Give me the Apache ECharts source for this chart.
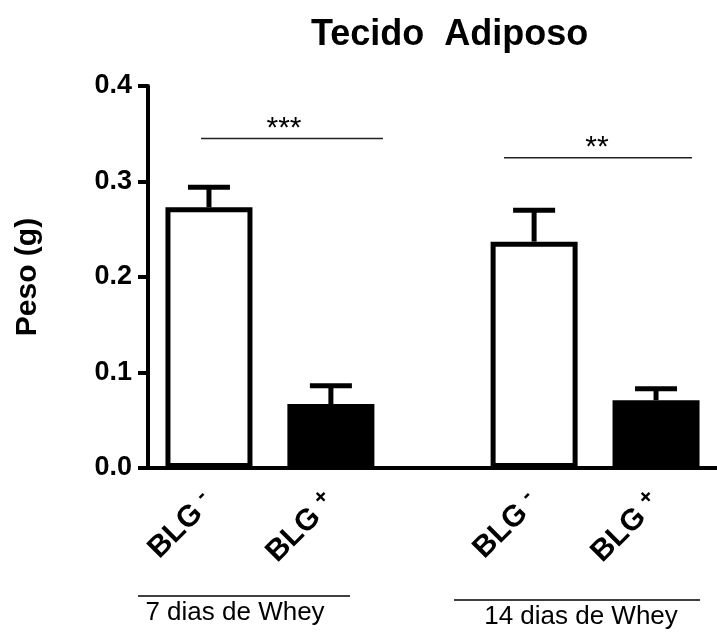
<!DOCTYPE html>
<html>
<head>
<meta charset="utf-8">
<script src="https://cdn.jsdelivr.net/npm/echarts@6/dist/echarts.min.js"></script>
<style>
  html, body { margin: 0; padding: 0; background: #fff; }
  #main { width: 717px; height: 632px; }
</style>
</head>
<body>
<div id="main"></div>
<script>
// data
const categories = ['BLG-', 'BLG+', 'BLG-', 'BLG+'];
const groups = ['7 dias de Whey', '14 dias de Whey'];
const means = [0.273, 0.067, 0.237, 0.071];
const sems = [0.021, 0.019, 0.033, 0.012];
const yTicks = [0.0, 0.1, 0.2, 0.3, 0.4];
const stars = ['***', '**'];
const starLevels = [0.345, 0.325];

const FONT = '"Liberation Sans", Arial, sans-serif';

// slot layout: each group takes 8 narrow slots, bars sit on slot 1 and 4 of it
const SLOTS = 14;
const slotOf = i => Math.floor(i / 2) * 8 + (i % 2) * 3 + 1;
const slotNames = [];
const slotLabels = [];
for (let s = 0; s < SLOTS; s++) { slotNames.push('s' + s); slotLabels.push(''); }
categories.forEach((c, i) => { slotLabels[slotOf(i)] = c; });

const barData = slotNames.map(() => '-');
categories.forEach((c, i) => {
    const filled = c.indexOf('+') >= 0;
    barData[slotOf(i)] = {
        value: means[i],
        itemStyle: { color: filled ? '#000' : '#fff', borderColor: '#000', borderWidth: 5 }
    };
});
const errData = categories.map((c, i) => [slotOf(i), means[i], sems[i]]);

const myChart = echarts.init(document.getElementById('main'));
myChart.setOption({
    animation: false,
    title: {
        text: 'Tecido  Adiposo',
        left: 306, top: 12,
        textStyle: { fontFamily: FONT, fontSize: 36, fontWeight: 'bold', color: '#000' }
    },
    grid: { left: 148, right: -6, top: 86, bottom: 164, containLabel: false },
    xAxis: {
        type: 'category',
        data: slotNames,
        axisLine: { lineStyle: { color: '#000', width: 4 } },
        axisTick: {
            alignWithLabel: true, length: 10,
            interval: (idx) => slotLabels[idx] !== '',
            lineStyle: { color: '#000', width: 4 }
        },
        axisLabel: {
            interval: 0, rotate: 45, margin: 30,
            formatter: (v, idx) => {
                const t = slotLabels[idx];
                if (!t) return '';
                return '{b|' + t.slice(0, 3) + '}{s|' + t.slice(3) + '}';
            },
            rich: {
                b: { fontFamily: FONT, fontSize: 30, fontWeight: 'bold', color: '#000' },
                s: { fontFamily: FONT, fontSize: 22, fontWeight: 'bold', color: '#000',
                     verticalAlign: 'top', padding: [0, 0, 14, 8] }
            }
        }
    },
    yAxis: {
        type: 'value', min: 0, max: 0.4, interval: 0.1,
        name: 'Peso (g)', nameLocation: 'middle', nameGap: 105,
        nameTextStyle: { fontFamily: FONT, fontSize: 30, fontWeight: 'bold', color: '#000' },
        axisLine: { show: true, lineStyle: { color: '#000', width: 4 } },
        axisTick: { show: true, length: 10, lineStyle: { color: '#000', width: 4 } },
        axisLabel: {
            margin: 16,
            fontFamily: FONT, fontSize: 27, fontWeight: 'bold', color: '#000',
            customValues: yTicks,
            formatter: v => v.toFixed(1)
        },
        splitLine: { show: false }
    },
    series: [
        {
            type: 'bar',
            data: barData,
            barWidth: 87,
            z: 2
        },
        {
            type: 'custom',
            data: errData,
            encode: { x: 0, y: 1 },
            z: 3,
            renderItem: (params, api) => {
                const idx = api.value(0);
                const m = api.value(1);
                const e = api.value(2);
                const base = api.coord([idx, m]);
                const top = api.coord([idx, m + e]);
                const half = 21;
                const st = { stroke: '#000', lineWidth: 5 };
                return {
                    type: 'group',
                    children: [
                        { type: 'line', shape: { x1: base[0], y1: base[1], x2: top[0], y2: top[1] }, style: st },
                        { type: 'line', shape: { x1: top[0] - half, y1: top[1], x2: top[0] + half, y2: top[1] }, style: st }
                    ]
                };
            }
        }
    ]
});

// annotations: significance brackets and group captions
const bracketX = [[201, 383], [504, 692]];
const starX = [284, 597];
const groupLineX = [[138, 350], [454, 700]];
const groupLineY = [596, 600];
const groupTextX = [235, 581];
const graphic = [];
stars.forEach((s, g) => {
    const y = myChart.convertToPixel({ gridIndex: 0 }, [0, starLevels[g]])[1];
    const x0 = bracketX[g][0], x1 = bracketX[g][1];
    graphic.push({ type: 'line', shape: { x1: x0, y1: y, x2: x1, y2: y },
        style: { stroke: '#222', lineWidth: 1.5 } });
    graphic.push({ type: 'text', x: starX[g], y: y + 5,
        style: { text: s, fontFamily: FONT, fontSize: 30, fill: '#000', align: 'center', verticalAlign: 'bottom' } });
});
groups.forEach((name, g) => {
    const [x0, x1] = groupLineX[g];
    const y = groupLineY[g];
    graphic.push({ type: 'line', shape: { x1: x0, y1: y, x2: x1, y2: y },
        style: { stroke: '#000', lineWidth: 1.5 } });
    graphic.push({ type: 'text', x: groupTextX[g], y: y + 4,
        style: { text: name, fontFamily: FONT, fontSize: 26, fill: '#000', align: 'center', verticalAlign: 'top' } });
});
myChart.setOption({ graphic: graphic });
</script>
</body>
</html>
